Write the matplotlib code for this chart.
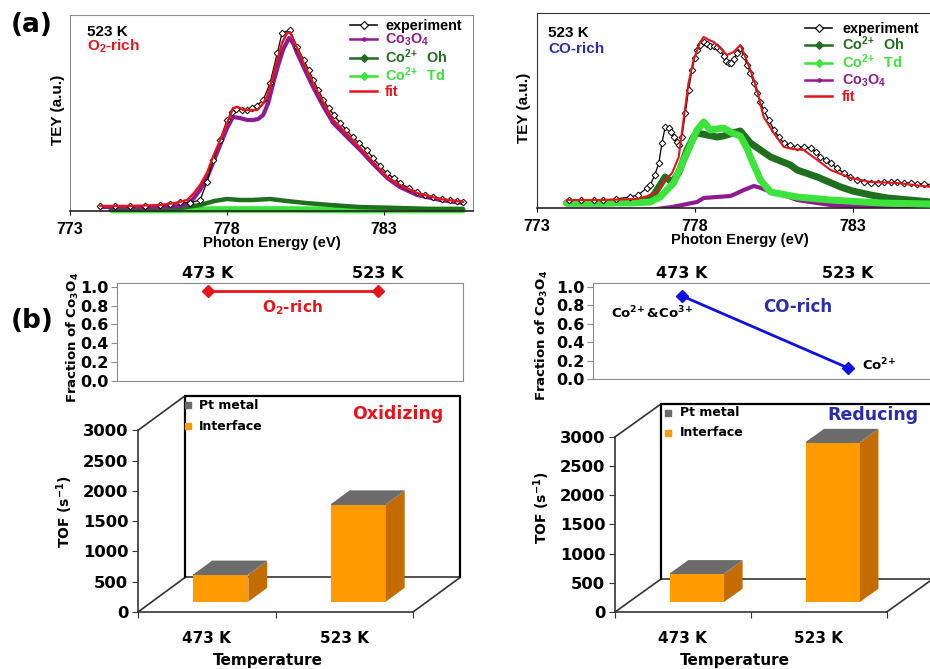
import numpy as np
import matplotlib
matplotlib.use("Agg")
import matplotlib.pyplot as plt
from matplotlib.lines import Line2D
from matplotlib.patches import Polygon
from matplotlib.ticker import NullFormatter

plt.rcParams['font.family'] = ['DejaVu Sans']
plt.rcParams['font.weight'] = 'bold'
plt.rcParams['axes.labelweight'] = 'bold'
plt.rcParams['mathtext.fontset'] = 'custom'
plt.rcParams['mathtext.rm'] = 'Liberation Sans:bold'
plt.rcParams['mathtext.it'] = 'Liberation Sans:bold:italic'
plt.rcParams['mathtext.bf'] = 'Liberation Sans:bold'
plt.rcParams['mathtext.default'] = 'bf'

LIB = ['Liberation Sans', 'DejaVu Sans']

# ── (a) XAS spectra, O2-rich, 523 K ───────────────────────────────────────────
e_exp_o = [773.96, 774.43, 774.91, 775.39, 775.87, 776.18, 776.5, 776.82, 777.14, 777.36,
           777.55, 777.78, 778.0, 778.15, 778.3, 778.48, 778.63, 778.8, 778.94, 779.15,
           779.37, 779.6, 779.75, 780.0, 780.23, 780.44, 780.6, 780.75, 780.9, 781.07,
           781.23, 781.4, 781.6, 781.8, 782.0, 782.2, 782.45, 782.65, 782.87, 783.08,
           783.3, 783.5, 783.78, 784.05, 784.3, 784.56, 784.85, 785.1, 785.33, 785.5]
i_exp_o = [5, 5, 5, 5, 6, 7, 9, 8, 11, 29,
           51, 71, 91, 99, 102, 101, 101, 103, 105, 111,
           128, 158, 178, 181, 164, 151, 141, 131, 121, 111,
           103, 96, 88, 81, 74, 68, 61, 53, 45, 38,
           33, 28, 23, 19, 16, 14, 12, 11, 10, 9]
e_fit_o = [773.96, 774.91, 775.87, 776.34, 776.73, 776.92, 777.14, 777.36, 777.55, 777.78,
           778.0, 778.19, 778.35, 778.51, 778.73, 778.96, 779.11, 779.27, 779.43, 779.6,
           779.75, 779.91, 780.0, 780.23, 780.48, 780.74, 781.06, 781.38, 781.82, 782.24,
           782.65, 783.1, 783.5, 784.05, 784.78, 785.52]
i_fit_o = [5, 5, 6, 8, 11, 17, 26, 38, 54, 71,
           88, 103, 104, 101, 101, 101, 106, 114, 131, 151,
           168, 178, 179, 163, 145, 128, 109, 91, 77, 63,
           49, 34, 26, 18, 12, 9]
e_co3o4_o = [773.96, 775.87, 776.5, 776.73, 776.92, 777.14, 777.36, 777.55, 777.78, 778.0,
             778.19, 778.41, 778.64, 778.83, 778.99, 779.15, 779.31, 779.47, 779.62, 779.78,
             779.97, 780.1, 780.23, 780.48, 780.74, 781.06, 781.38, 781.82, 782.24, 782.65,
             783.1, 783.5, 784.05, 784.78, 785.52]
i_co3o4_o = [4, 4, 5, 7, 12, 21, 33, 48, 66, 83,
             94, 93, 91, 91, 92, 96, 108, 128, 145, 161,
             173, 168, 158, 141, 124, 105, 88, 74, 61, 47,
             33, 24, 16, 11, 8]
e_oh_o = [774.3, 775.5, 776.1, 776.5, 777.14, 777.6, 778.0, 778.4, 778.8, 779.37,
          779.9, 780.5, 781.3, 782.2, 783.5, 784.5, 785.5]
i_oh_o = [1, 1, 2, 3, 6, 10, 12, 11, 11, 12,
          10, 8, 6, 4, 3, 2, 2]
e_td_o = [774.34, 776.0, 778.0, 780.0, 782.0, 784.0, 785.5]
i_td_o = [1, 1, 1.5, 1.5, 1, 1, 1]

# ── (a) XAS spectra, CO-rich, 523 K ───────────────────────────────────────────
e_exp_r = [774.0, 774.4, 774.8, 775.1, 775.5, 775.95, 776.2, 776.48, 776.59, 776.73,
           776.86, 776.96, 777.06, 777.17, 777.25, 777.33, 777.42, 777.49, 777.59, 777.7,
           777.8, 777.91, 778.0, 778.07, 778.17, 778.28, 778.4, 778.49, 778.6, 778.7,
           778.81, 778.91, 779.0, 779.07, 779.15, 779.23, 779.34, 779.44, 779.55, 779.65,
           779.76, 779.87, 779.97, 780.08, 780.18, 780.35, 780.5, 780.66, 780.82, 781.03,
           781.24, 781.45, 781.67, 781.83, 781.98, 782.15, 782.3, 782.5, 782.72, 782.93,
           783.15, 783.36, 783.57, 783.8, 784.0, 784.2, 784.42, 784.63, 784.84, 785.05,
           785.26, 785.48]
i_exp_r = [8, 8, 8, 8, 9, 11, 13, 20, 23, 33,
           45, 65, 81, 80, 76, 71, 66, 63, 71, 95,
           118, 138, 150, 158, 163, 166, 164, 162, 162, 161,
           158, 152, 147, 145, 145, 149, 155, 160, 152, 143,
           135, 125, 115, 106, 98, 88, 78, 71, 65, 63,
           61, 61, 60, 56, 51, 48, 45, 40, 35, 31,
           28, 26, 25, 25, 26, 26, 26, 25, 25, 24,
           24, 23]
e_fit_r = [773.94, 775.0, 776.16, 776.5, 776.8, 777.0, 777.28, 777.49, 777.64, 777.8,
           777.96, 778.17, 778.28, 778.45, 778.6, 778.8, 779.02, 779.23, 779.44, 779.55,
           779.76, 779.97, 780.18, 780.5, 780.82, 781.1, 781.45, 781.88, 782.3, 782.94,
           783.57, 784.42, 785.48]
i_fit_r = [8, 8, 9, 12, 16, 26, 35, 51, 88, 125,
           148, 166, 171, 168, 166, 160, 153, 156, 163, 155,
           138, 118, 91, 75, 61, 59, 58, 48, 38, 30,
           26, 25, 21]
e_oh_r = [773.94, 775.0, 776.0, 776.59, 776.86, 777.06, 777.28, 777.49, 777.75, 777.96,
          778.07, 778.39, 778.7, 778.91, 779.2, 779.44, 779.76, 780.08, 780.4, 781.03,
          781.24, 781.88, 782.62, 783.0, 783.57, 784.1, 784.8, 785.48]
i_oh_r = [5, 5, 6, 8, 21, 31, 26, 35, 58, 71,
          75, 73, 71, 72, 75, 77, 65, 58, 51, 43,
          38, 31, 21, 17, 13, 10, 8, 6]
e_td_r = [773.94, 775.0, 776.0, 776.59, 776.9, 777.33, 777.75, 778.07, 778.28, 778.49,
          778.7, 778.91, 779.18, 779.44, 779.65, 779.76, 780.08, 780.4, 781.24, 782.3,
          783.9, 785.48]
i_td_r = [5, 5, 5, 6, 11, 25, 55, 78, 86, 78,
          79, 80, 75, 72, 60, 51, 28, 16, 11, 8,
          5, 4]
e_co3o4_r = [776.37, 776.8, 777.28, 778.07, 778.28, 778.7, 779.13, 779.35, 779.55, 779.87,
             780.1, 780.4, 780.9, 781.24, 782.3, 783.9, 785.48]
i_co3o4_r = [-2, -1, 1, 6, 10, 11, 12, 15, 18, 22,
             20, 16, 12, 8, 3, 0, -2]

# ── (b) fraction of Co3O4 and TOF ─────────────────────────────────────────────
temps = ["473 K", "523 K"]
frac_o2rich = [0.95, 0.95]
frac_corich = [0.90, 0.12]
tof_interface_ox = [440, 1600]
tof_ptmetal_ox = [10, 10]
tof_interface_red = [480, 2730]
tof_ptmetal_red = [10, 10]

BLACK = "black"
RED = "#e8141c"
PURPLE = "#8e1c8e"
DGREEN = "#1f6f1f"
LGREEN = "#3be33b"
BLUE_TXT = "#2b2bb0"
BLUE_LN = "#1010e6"
ORANGE = "#ff9a00"
ORANGE_SIDE = "#c46c00"
GREY = "#6b6b6b"
GREY_SIDE = "#505050"
FRAME = "#8a8a8a"

W, H = 930, 669
fig = plt.figure(figsize=(9.3, 6.69), dpi=100)
fig.patch.set_facecolor("white")


def px_axes(l, t, r, b):
    return fig.add_axes([l / W, 1 - b / H, (r - l) / W, (b - t) / H])


def ftext(x, y, s, **kw):
    kw.setdefault("ha", "center")
    kw.setdefault("va", "center")
    fig.text(x / W, 1 - y / H, s, **kw)


def btext(x, y, s, **kw):
    # bottom panels: DejaVu text and DejaVu mathtext
    ftext(x, y, s, math_fontfamily="dejavusans", **kw)


def spectrum(ax, curves, ymax, spine_col):
    for key, e, i, color, lw, z in curves:
        if key == "exp":
            ax.plot(e, i, color=color, lw=0.9, marker="D", ms=3.4, mfc="white",
                    mec=color, mew=0.7, zorder=z)
        else:
            ax.plot(e, i, color=color, lw=lw, zorder=z, clip_on=(key != "td"),
                    solid_capstyle="round")
    ax.set_xlim(773, 785.83)
    ax.set_ylim(0, ymax)
    ax.set_xticks([773, 778, 783])
    ax.set_yticks([])
    ax.tick_params(axis="x", direction="out", length=3, labelsize=11.5, pad=5)
    for lbl in ax.get_xticklabels():
        lbl.set_fontfamily(LIB)
    for s in ["left", "top", "right"]:
        ax.spines[s].set_color(spine_col)
    ax.spines["bottom"].set_color("#222222")
    ax.spines["bottom"].set_linewidth(1.2)
    ax.set_xlabel("Photon Energy (eV)", fontsize=10.7, labelpad=-1, fontfamily=LIB)


def legend_manual(entries, x0, x1, xt, ys):
    for (label, color, mk, mfc), y in zip(entries, ys):
        fig.add_artist(Line2D([x0 / W, x1 / W], [1 - (y - 5.5) / H] * 2, color=color,
                              lw=1.8 if mk != "D" or mfc != "white" else 1.1))
        if mk:
            fig.add_artist(Line2D([(x0 + x1) / 2 / W], [1 - (y - 5.5) / H], marker=mk,
                                  ms=4.5 if mk == "D" else 5, color=color, mfc=mfc,
                                  mec=color, mew=0.8, lw=0))
        ftext(xt, y, label, ha="left", va="baseline", color=color, fontsize=10.4,
              fontfamily=LIB)


# left spectrum
ax1 = px_axes(70, 15, 473, 211)
spectrum(ax1, [
    ("td", e_td_o, i_td_o, LGREEN, 4.8, 1),
    ("oh", e_oh_o, i_oh_o, DGREEN, 3.2, 2),
    ("co3o4", e_co3o4_o, i_co3o4_o, PURPLE, 3.0, 3),
    ("exp", e_exp_o, i_exp_o, BLACK, 1, 4),
    ("fit", e_fit_o, i_fit_o, RED, 1.7, 5),
], 196, FRAME)
legend_manual([("experiment", BLACK, "D", "white"),
               (r"Co$_3$O$_4$", PURPLE, ".", PURPLE),
               (r"Co$^{2\!+}$  Oh", DGREEN, "D", DGREEN),
               (r"Co$^{2\!+}$  Td", LGREEN, "D", LGREEN),
               ("fit", RED, None, None)],
              350, 377, 385, [30, 44, 63, 81, 96])

# right spectrum
ax2 = px_axes(537, 13, 942, 208)
spectrum(ax2, [
    ("co3o4", e_co3o4_r, i_co3o4_r, PURPLE, 3.0, 1),
    ("oh", e_oh_r, i_oh_r, DGREEN, 5.0, 2),
    ("td", e_td_r, i_td_r, LGREEN, 5.0, 3),
    ("exp", e_exp_r, i_exp_r, BLACK, 1, 4),
    ("fit", e_fit_r, i_fit_r, RED, 1.5, 5),
], 195, "#333333")
legend_manual([("experiment", BLACK, "D", "white"),
               (r"Co$^{2\!+}$  Oh", DGREEN, "D", DGREEN),
               (r"Co$^{2\!+}$  Td", LGREEN, "D", LGREEN),
               (r"Co$_3$O$_4$", PURPLE, ".", PURPLE),
               ("fit", RED, None, None)],
              805, 832, 842, [33, 50, 68, 85, 101])

ftext(58, 110, "TEY (a.u.)", rotation=90, fontsize=11, fontfamily=LIB)
ftext(524, 108, "TEY (a.u.)", rotation=90, fontsize=11, fontfamily=LIB)
ftext(87, 36, "523 K", ha="left", va="baseline", fontsize=11, fontfamily=LIB)
ftext(87, 51, r"O$_2$-rich", ha="left", va="baseline", fontsize=11, color=RED,
      fontfamily=LIB)
ftext(548, 37, "523 K", ha="left", va="baseline", fontsize=11, fontfamily=LIB)
ftext(548, 53, "CO-rich", ha="left", va="baseline", fontsize=11, color=BLUE_TXT,
      fontfamily=LIB)
ftext(32, 25, "(a)", fontsize=19)
ftext(32, 321, "(b)", fontsize=19)


# ── fraction panels ───────────────────────────────────────────────────────────
def fraction(ax, vals, color):
    ax.plot([0, 1], vals, color=color, lw=2, marker="D", ms=6, zorder=3)
    ax.set_xlim(-0.535, 1.5)
    ax.set_ylim(0, 1.04)
    ax.set_yticks(np.arange(0, 1.01, 0.2))
    ax.set_yticklabels([f"{v:.1f}" for v in np.arange(0, 1.01, 0.2)])
    ax.xaxis.tick_top()
    ax.set_xticks([0, 1], labels=temps)
    ax.tick_params(axis="x", length=0, labelsize=11.5, pad=1.5)
    ax.tick_params(axis="y", direction="out", length=4, labelsize=11.5, pad=2,
                   color=FRAME)
    for s in ax.spines.values():
        s.set_color(FRAME)


axf1 = px_axes(117, 283, 463, 381)
fraction(axf1, frac_o2rich, RED)
btext(292, 308, r"O$_2$-rich", fontsize=11, color=RED)
btext(73, 337, r"Fraction of Co$_3$O$_4$", rotation=90, fontsize=9.5)

axf2 = px_axes(593, 283, 931, 379)
fraction(axf2, frac_corich, BLUE_LN)
btext(652, 313, r"Co$^{2\!+}$&Co$^{3\!+}$", fontsize=9.5)
btext(798, 307, "CO-rich", fontsize=12, color=BLUE_TXT)
btext(879, 365, r"Co$^{2\!+}$", fontsize=9.5)
btext(542, 335, r"Fraction of Co$_3$O$_4$", rotation=90, fontsize=9.5)

# ── pseudo-3D stacked TOF columns ─────────────────────────────────────────────
DX, DY = 0.342, 570      # depth offset in category / TOF units
F0, F1 = 0.3, 0.7        # bar front / back depth fraction
BAR_W = 0.4


def bars3d(ax, interface, ptmetal, title, tcolor, leg_x, leg_y):
    ln = dict(color="#333333", lw=1.2, zorder=1, clip_on=False)
    ax.plot([0, DX], [3000, 3000 + DY], **ln)
    ax.plot([0, DX], [0, DY], **ln)
    ax.plot([2, 2 + DX], [0, DY], **ln)
    ax.plot([DX, 2 + DX], [DY, DY], **ln)
    wall = dict(color="black", lw=1.6, zorder=1, clip_on=False)
    ax.plot([DX, DX, 2 + DX, 2 + DX], [DY, 3000 + DY, 3000 + DY, DY], **wall)

    d = F1 - F0
    for k, (vi, vp) in enumerate(zip(interface, ptmetal)):
        xc = k + 0.5 + F0 * DX
        x1 = xc + BAR_W / 2
        x0 = xc - BAR_W / 2
        segs = [(0, vi, ORANGE, ORANGE_SIDE), (vi, vi + vp, GREY, GREY_SIDE)]
        for bot, top, fc, sc in segs:
            yb, yt = bot + F0 * DY, top + F0 * DY
            ax.bar(xc, top - bot, bottom=yb, width=BAR_W, color=fc, lw=0, zorder=3)
            ax.add_patch(Polygon([(x1, yb), (x1 + d * DX, yb + d * DY),
                                  (x1 + d * DX, yt + d * DY), (x1, yt)],
                                 closed=True, fc=sc, ec="none", zorder=3))
        yt = interface[k] + ptmetal[k] + F0 * DY
        ax.add_patch(Polygon([(x0, yt), (x1, yt), (x1 + d * DX, yt + d * DY),
                              (x0 + d * DX, yt + d * DY)],
                             closed=True, fc=GREY, ec="none", zorder=4))

    ax.set_xlim(0, 2.4)
    ax.set_ylim(0, 3650)
    ax.set_yticks(np.arange(0, 3001, 500))
    ax.set_xticks([0, 1, 2])
    ax.xaxis.set_major_formatter(NullFormatter())
    ax.set_xticks([0.5, 1.5], labels=temps, minor=True)
    ax.tick_params(axis="x", which="major", direction="out", length=4.5, color="#333333")
    ax.tick_params(axis="x", which="minor", length=0, pad=14, labelsize=11)
    ax.tick_params(axis="y", direction="out", length=4, labelsize=11.8, pad=3,
                   color="#333333")
    ax.spines["top"].set_visible(False)
    ax.spines["right"].set_visible(False)
    ax.spines["left"].set_bounds(0, 3000)
    ax.spines["bottom"].set_bounds(0, 2)
    for s in ["left", "bottom"]:
        ax.spines[s].set_color("#333333")
        ax.spines[s].set_linewidth(1.2)
    ax.patch.set_alpha(0)

    ax.plot([leg_x], [leg_y[0]], marker="s", ms=4.5, color=GREY, lw=0, clip_on=False)
    ax.plot([leg_x], [leg_y[1]], marker="s", ms=4.5, color=ORANGE, lw=0, clip_on=False)
    ax.text(leg_x + 0.085, leg_y[0], "Pt metal", fontsize=9, va="center")
    ax.text(leg_x + 0.085, leg_y[1], "Interface", fontsize=9, va="center")
    ax.text(title[1], title[2], title[0], fontsize=12.5, color=tcolor,
            ha="center", va="center")


axb1 = px_axes(138, 391, 468, 612)
bars3d(axb1, tof_interface_ox, tof_ptmetal_ox, ("Oxidizing", 1.89, 3264), RED,
       0.36, (3412, 3066))
btext(65, 512, r"TOF (s$^{-1}$)", rotation=90, fontsize=10)
btext(268, 660, "Temperature", fontsize=11)

axb2 = px_axes(615, 399, 941, 612)
bars3d(axb2, tof_interface_red, tof_ptmetal_red, ("Reducing", 1.897, 3377), BLUE_TXT,
       0.39, (3411, 3069))
btext(542, 508, r"TOF (s$^{-1}$)", rotation=90, fontsize=10)
btext(735, 660, "Temperature", fontsize=11)

fig.savefig("out.png", dpi=100, facecolor="white")
